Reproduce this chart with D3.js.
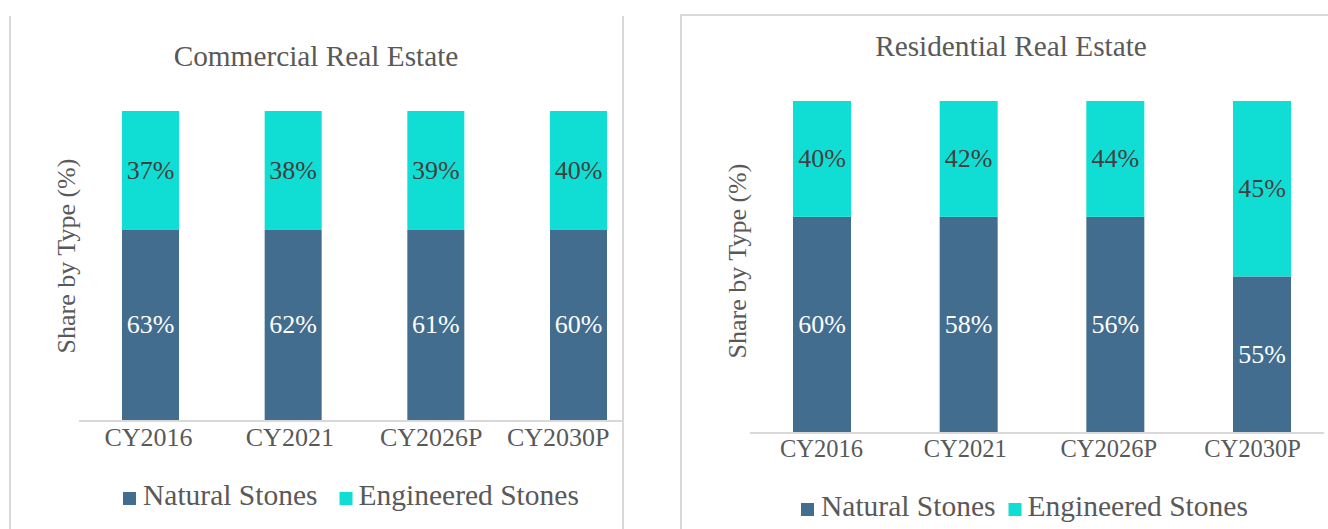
<!DOCTYPE html>
<html>
<head>
<meta charset="utf-8">
<script src="https://cdn.jsdelivr.net/npm/d3@7"></script>
<style>
  body { margin: 0; background: #fff; }
  svg { display: block; }
  text { font-family: "Liberation Serif", "Times New Roman", serif; }
</style>
</head>
<body>
<script>
// categories
var years = ["CY2016", "CY2021", "CY2026P", "CY2030P"];
var seriesNames = ["Natural Stones", "Engineered Stones"];

// data labels as printed on the bars (%)
var comNaturalLabel = [63, 62, 61, 60];
var comEngineeredLabel = [37, 38, 39, 40];
var resNaturalLabel = [60, 58, 56, 55];
var resEngineeredLabel = [40, 42, 44, 45];

// bar heights as drawn in the picture (% of the 100% stack)
var comNaturalBar = [61.5, 61.5, 61.5, 61.5];
var resNaturalBar = [65, 65, 65, 47];

var colors = { natural: "#426d8f", engineered: "#10ded4" };

var W = 1328, H = 529;
var svg = d3.select("body").append("svg")
    .attr("width", W)
    .attr("height", H);

// panel frames
svg.append("line").attr("x1", 10).attr("x2", 10).attr("y1", 16).attr("y2", H)
    .style("stroke", "#d9d9d9").style("stroke-width", 2);
svg.append("line").attr("x1", 623).attr("x2", 623).attr("y1", 16).attr("y2", H)
    .style("stroke", "#d9d9d9").style("stroke-width", 2);
svg.append("path").attr("d", "M681," + H + "V15H" + W)
    .style("fill", "none").style("stroke", "#d9d9d9").style("stroke-width", 2);

var panels = [
    { title: "Commercial Real Estate", titleX: 316, titleY: 56,
      centers: [150.5, 578.5], tickCenters: [148, 572], tickMax: 609, tickSize: 26,
      barW: 57, yTop: 111, yBase: 420,
      axisX: [79, 623], tickY: 437, yLabelX: 66, yLabelY: 256,
      natBar: comNaturalBar, natLab: comNaturalLabel, engLab: comEngineeredLabel,
      legendX: 123, legendY: 495, legendGap: 22 },
    { title: "Residential Real Estate", titleX: 1011, titleY: 46,
      centers: [822, 1262], tickCenters: [821, 1252], tickMax: 1314, tickSize: 24.5,
      barW: 58, yTop: 101, yBase: 432,
      axisX: [750, 1324], tickY: 448, yLabelX: 737, yLabelY: 261,
      natBar: resNaturalBar, natLab: resNaturalLabel, engLab: resEngineeredLabel,
      legendX: 801, legendY: 506, legendGap: 13 }
];

panels.forEach(function(p) {
    var x = d3.scalePoint().domain(years).range(p.centers);
    var xt = d3.scalePoint().domain(years).range(p.tickCenters);
    var y = d3.scaleLinear().domain([0, 100]).range([p.yBase, p.yTop]);

    var rows = years.map(function(yr, i) {
        return { year: yr, nat: p.natBar[i], natLab: p.natLab[i], engLab: p.engLab[i] };
    });

    // title
    svg.append("text")
        .attr("x", p.titleX)
        .attr("y", p.titleY)
        .attr("text-anchor", "middle")
        .attr("dominant-baseline", "central")
        .style("font-size", "29.3px")
        .style("fill", "#595959")
        .text(p.title);

    // y axis title
    svg.append("text")
        .attr("transform", "translate(" + p.yLabelX + "," + p.yLabelY + ") rotate(-90)")
        .attr("text-anchor", "middle")
        .attr("dominant-baseline", "central")
        .style("font-size", "26px")
        .style("fill", "#595959")
        .text("Share by Type (%)");

    var g = svg.append("g");

    // natural stones
    g.selectAll(".nat").data(rows).enter().append("rect")
        .attr("x", function(d) { return x(d.year) - p.barW / 2; })
        .attr("y", function(d) { return y(d.nat); })
        .attr("width", p.barW)
        .attr("height", function(d) { return y(0) - y(d.nat); })
        .style("fill", colors.natural);

    // engineered stones
    g.selectAll(".eng").data(rows).enter().append("rect")
        .attr("x", function(d) { return x(d.year) - p.barW / 2; })
        .attr("y", y(100))
        .attr("width", p.barW)
        .attr("height", function(d) { return y(d.nat) - y(100); })
        .style("fill", colors.engineered);

    // labels
    g.selectAll(".natLab").data(rows).enter().append("text")
        .attr("x", function(d) { return x(d.year); })
        .attr("y", function(d) { return (y(0) + y(d.nat)) / 2; })
        .attr("text-anchor", "middle")
        .attr("dominant-baseline", "central")
        .style("font-size", "26px")
        .style("fill", "#ffffff")
        .text(function(d) { return d.natLab + "%"; });

    g.selectAll(".engLab").data(rows).enter().append("text")
        .attr("x", function(d) { return x(d.year); })
        .attr("y", function(d) { return (y(d.nat) + y(100)) / 2; })
        .attr("text-anchor", "middle")
        .attr("dominant-baseline", "central")
        .style("font-size", "26px")
        .style("fill", "#404040")
        .text(function(d) { return d.engLab + "%"; });

    // axis line
    svg.append("line")
        .attr("x1", p.axisX[0]).attr("x2", p.axisX[1])
        .attr("y1", y(0) + 1).attr("y2", y(0) + 1)
        .style("stroke", "#d9d9d9").style("stroke-width", 2);

    // tick labels
    var ax = svg.append("g")
        .attr("transform", "translate(0," + p.tickY + ")")
        .call(d3.axisBottom(xt).tickSize(0).tickPadding(0));
    ax.select(".domain").remove();
    ax.selectAll("text")
        .attr("y", 0)
        .attr("dy", null)
        .attr("dominant-baseline", "central")
        .style("font-family", "'Liberation Serif', 'Times New Roman', serif")
        .style("font-size", p.tickSize + "px")
        .style("fill", "#595959");
    // keep the last label inside the plot area, like the spreadsheet does
    ax.selectAll(".tick").each(function(d) {
        var t = d3.select(this).select("text");
        var w = t.node().getComputedTextLength();
        var over = xt(d) + w / 2 - p.tickMax;
        if (over > 0) t.attr("x", -over);
    });

    // legend
    var leg = svg.append("g").attr("transform", "translate(" + p.legendX + "," + p.legendY + ")");
    var t1 = leg.append("text")
        .attr("x", 20).attr("y", 0)
        .attr("dominant-baseline", "central")
        .style("font-size", "29.5px").style("fill", "#595959")
        .text(seriesNames[0]);
    var natW = t1.node().getComputedTextLength();
    leg.append("rect").attr("x", 0).attr("y", -3).attr("width", 13).attr("height", 13)
        .style("fill", colors.natural);
    var x2 = 20 + natW + p.legendGap;
    leg.append("rect").attr("x", x2).attr("y", -3).attr("width", 13).attr("height", 13)
        .style("fill", colors.engineered);
    leg.append("text")
        .attr("x", x2 + 19).attr("y", 0)
        .attr("dominant-baseline", "central")
        .style("font-size", "29.5px").style("fill", "#595959")
        .text(seriesNames[1]);
});
</script>
</body>
</html>
